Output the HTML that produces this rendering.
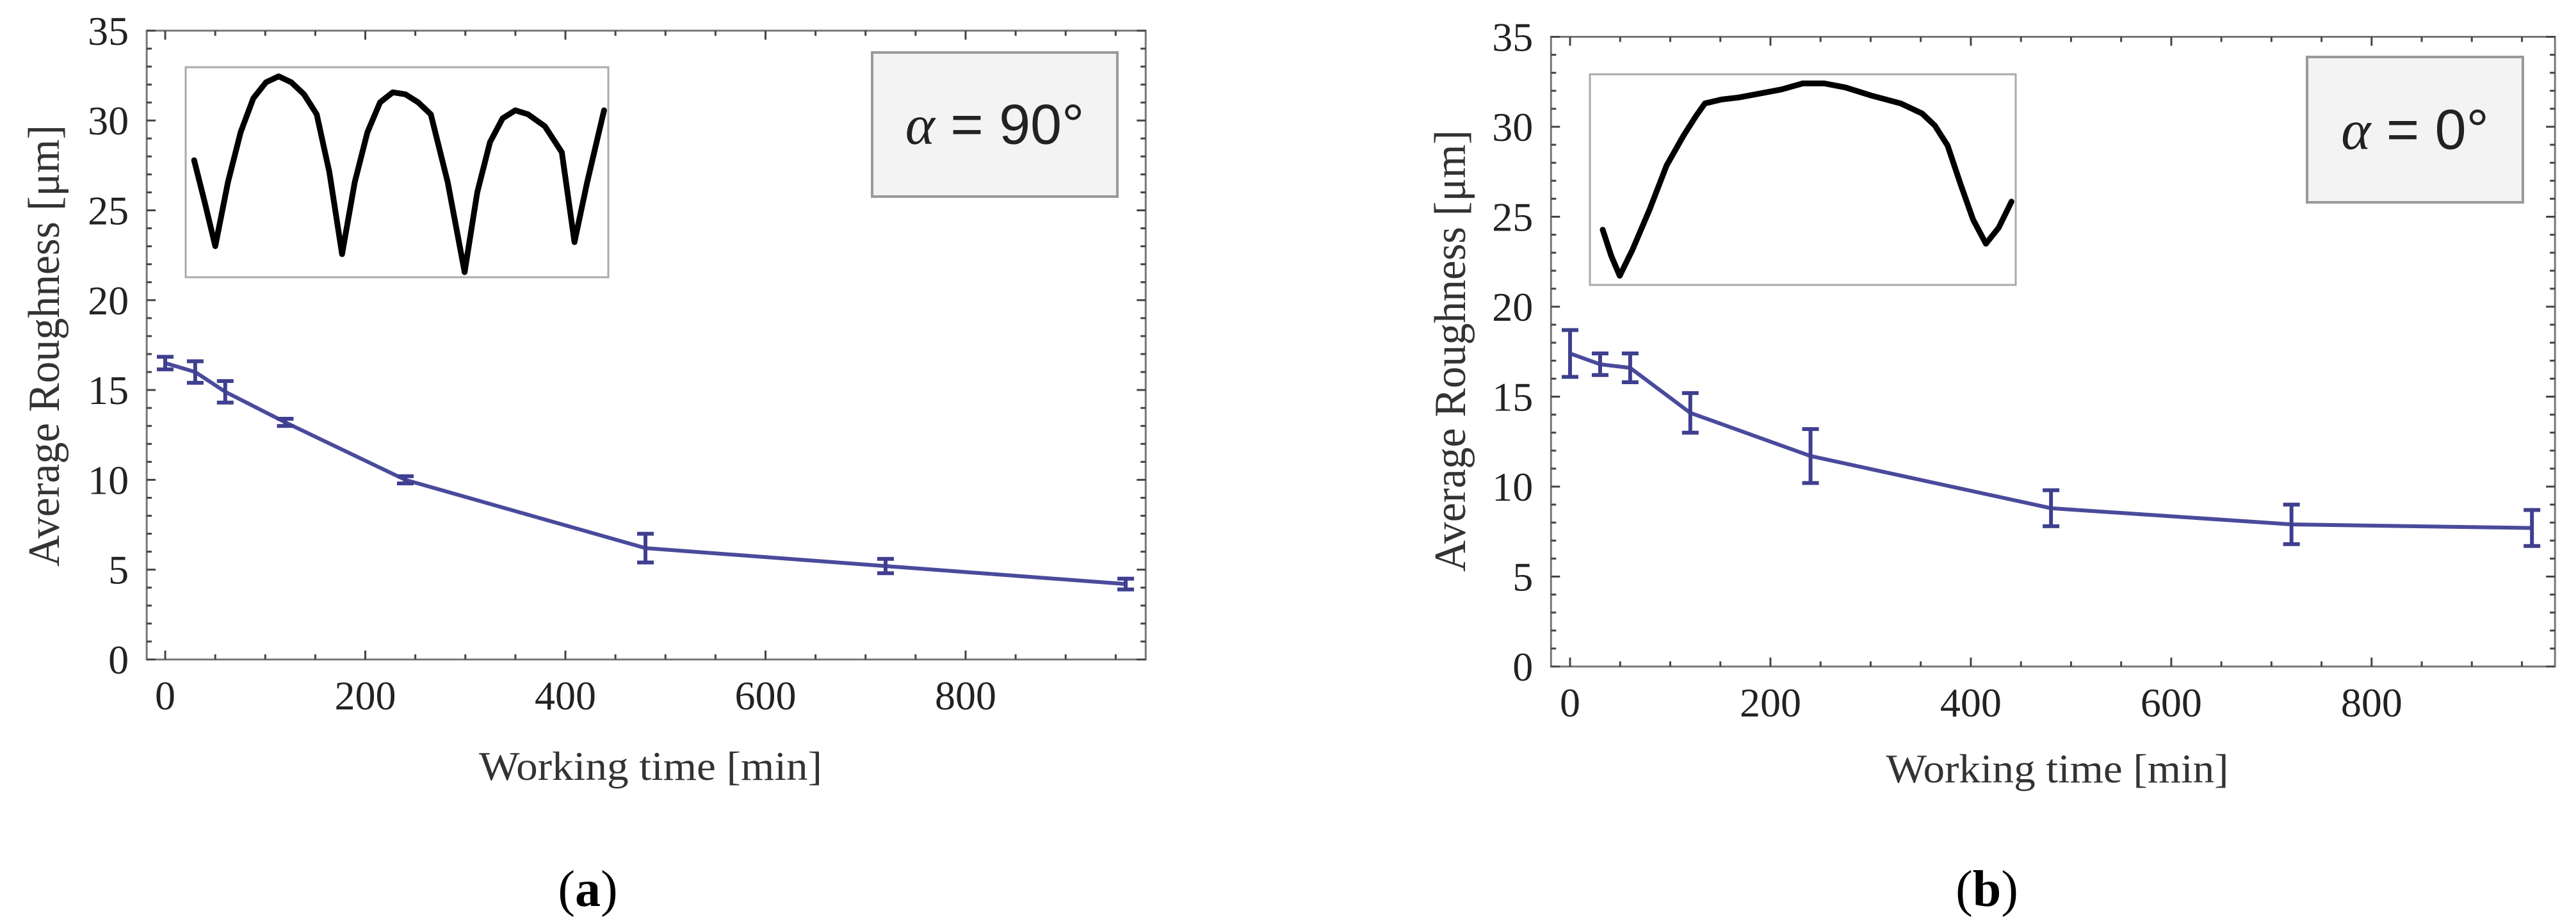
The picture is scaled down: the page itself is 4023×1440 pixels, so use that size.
<!DOCTYPE html>
<html><head><meta charset="utf-8"><style>
html,body{margin:0;padding:0;background:#fff;}
svg{display:block;}
</style></head><body>
<svg id="fig" width="4023" height="1440" viewBox="0 0 4023 1440" xmlns="http://www.w3.org/2000/svg"></svg>
<script>
// ---- data ----
const timesA = [0, 30, 60, 120, 240, 480, 720, 960];
const roughA = [16.5, 16.0, 14.9, 13.2, 10.0, 6.2, 5.2, 4.2];
const errA   = [0.35, 0.6, 0.6, 0.2, 0.2, 0.8, 0.4, 0.3];
const timesB = [0, 30, 60, 120, 240, 480, 720, 960];
const roughB = [17.4, 16.8, 16.6, 14.1, 11.7, 8.8, 7.9, 7.7];
const errB   = [1.3, 0.6, 0.8, 1.1, 1.5, 1.0, 1.1, 1.0];
const xTickLabels = [0, 200, 400, 600, 800];
const yTickLabels = [0, 5, 10, 15, 20, 25, 30, 35];
// inset profiles (normalized 0..1 across inset box, y 0=top)
const profileA = [[0.02,0.44],[0.045,0.65],[0.07,0.87],[0.10,0.55],[0.13,0.30],[0.16,0.13],[0.19,0.05],[0.22,0.02],[0.25,0.05],[0.28,0.11],[0.31,0.21],[0.34,0.50],[0.37,0.91],[0.40,0.55],[0.43,0.30],[0.46,0.15],[0.49,0.10],[0.52,0.11],[0.55,0.15],[0.58,0.21],[0.62,0.55],[0.66,1.0],[0.69,0.60],[0.72,0.35],[0.75,0.23],[0.78,0.19],[0.81,0.21],[0.85,0.27],[0.89,0.40],[0.92,0.85],[0.95,0.55],[0.99,0.19]];
const profileB = [[0.03,0.75],[0.05,0.88],[0.07,0.98],[0.10,0.85],[0.14,0.65],[0.18,0.43],[0.22,0.28],[0.25,0.18],[0.27,0.12],[0.31,0.10],[0.35,0.09],[0.40,0.07],[0.45,0.05],[0.50,0.02],[0.55,0.02],[0.60,0.04],[0.66,0.08],[0.73,0.12],[0.78,0.17],[0.81,0.23],[0.84,0.33],[0.87,0.52],[0.90,0.70],[0.93,0.82],[0.96,0.74],[0.99,0.61]];

const NS = "http://www.w3.org/2000/svg";
const svg = document.getElementById('fig');
function mk(tag, attrs, parent){
  const e = document.createElementNS(NS, tag);
  for (const k in attrs) e.setAttribute(k, attrs[k]);
  (parent||svg).appendChild(e);
  return e;
}

function drawChart(c, times, rough, err, profile){
  const g = mk('g', {});
  
  
  const X = v => c.x0 + (v - 0) * c.xs;
  const Y = v => c.y0 - v * c.ys;
  const L = X(c.xmin), R = X(c.xmax), T = Y(35), B = Y(0);
  const fr = mk('rect', {x:L, y:T, width:R-L, height:B-T, fill:'none', stroke:'#777', 'stroke-width':3}, g);
  
  
  for (let v = 0; v <= c.xmax; v += 50) {
    const major = v % 200 === 0;
    const len = major ? 14 : 8;
    mk('line', {x1:X(v), x2:X(v), y1:B, y2:B-len, stroke:'#444', 'stroke-width':3}, g);
    mk('line', {x1:X(v), x2:X(v), y1:T, y2:T+len, stroke:'#444', 'stroke-width':3}, g);
  }
  for (let v = 0; v <= 35; v += 1) {
    const major = v % 5 === 0;
    const len = major ? 14 : 8;
    mk('line', {x1:L, x2:L+len, y1:Y(v), y2:Y(v), stroke:'#444', 'stroke-width':3}, g);
    mk('line', {x1:R, x2:R-len, y1:Y(v), y2:Y(v), stroke:'#444', 'stroke-width':3}, g);
  }
  xTickLabels.forEach(v => {
    const t = mk('text', {x:X(v), y:B+78, 'text-anchor':'middle', 'font-family':'Liberation Serif, serif', 'font-size':64, fill:'#222'}, g);
    t.textContent = v;
    
    
  });
  yTickLabels.forEach(v => {
    const t = mk('text', {x:L-28, y:Y(v)+22, 'text-anchor':'end', 'font-family':'Liberation Serif, serif', 'font-size':64, fill:'#222'}, g);
    t.textContent = v;
    
    
  });
  const xt = mk('text', {x:c.xtx, y:c.xty, 'text-anchor':'middle', 'font-family':'Liberation Serif, serif', 'font-size':64, fill:'#333', textLength:c.xtl, lengthAdjust:'spacingAndGlyphs'}, g);
  xt.textContent = 'Working  time  [min]';
  
  
  const yt = mk('text', {x:0, y:0, 'text-anchor':'middle', 'font-family':'Liberation Serif, serif', 'font-size':70, fill:'#333', textLength:690, lengthAdjust:'spacingAndGlyphs', transform:`translate(${c.ytx},${c.yty}) rotate(-90)`}, g);
  yt.textContent = 'Average  Roughness [μm]';
  
  
  const ins = mk('rect', {x:c.ix, y:c.iy, width:c.iw, height:c.ih, fill:'#fff', stroke:'#aaa', 'stroke-width':3}, g);
  
  
  const pp = profile.map(p => (c.ix + p[0]*c.iw) + ',' + (c.iy + 8 + p[1]*(c.ih-16))).join(' ');
  const prof = mk('polyline', {points:pp, fill:'none', stroke:'#000', 'stroke-width':9, 'stroke-linejoin':'round', 'stroke-linecap':'round'}, g);
  
  
  const lb = mk('rect', {x:c.lx, y:c.ly, width:c.lw, height:c.lh, fill:'#f3f3f3', stroke:'#999', 'stroke-width':4}, g);
  
  
  const lt = mk('text', {x:c.lx+c.lw/2, y:c.ly+c.lh/2+30, 'text-anchor':'middle', 'font-family':'Liberation Sans, sans-serif', 'font-size':88, fill:'#222'}, g);
  lt.innerHTML = '<tspan font-family="Liberation Serif, serif" font-style="italic">α</tspan> = ' + c.angle + '°';
  
  
  const pts = times.map((t,i) => X(t) + ',' + Y(rough[i])).join(' ');
  const ln = mk('polyline', {points:pts, fill:'none', stroke:'#4a4a9c', 'stroke-width':6}, g);
  
  
  times.forEach((t,i) => {
    const eg = mk('g', {stroke:'#3f3f8f', 'stroke-width':6}, g);
    
    
    const x = X(t), y1 = Y(rough[i]-err[i]), y2 = Y(rough[i]+err[i]);
    mk('line', {x1:x, x2:x, y1:y1, y2:y2}, eg);
    mk('line', {x1:x-13, x2:x+13, y1:y1, y2:y1}, eg);
    mk('line', {x1:x-13, x2:x+13, y1:y2, y2:y2}, eg);
  });
  const cap = mk('text', {x:c.capx, y:1415, 'text-anchor':'middle', 'font-family':'Liberation Serif, serif', 'font-size':80, fill:'#000'}, g);
  cap.innerHTML = '(<tspan font-weight="bold">' + c.cap + '</tspan>)';
  
  
}

drawChart({name:'chart-a', x0:258, xs:1.5625, y0:1030, ys:28.06, xmin:-18.5, xmax:980,
  xtx:1016, xty:1218, xtl:536, ytx:92, yty:540,
  ix:290, iy:105, iw:660, ih:328, lx:1362, ly:82, lw:383, lh:225, angle:'90', cap:'a', capx:918},
  timesA, roughA, errA, profileA);
drawChart({name:'chart-b', x0:2452, xs:1.5648, y0:1041, ys:28.1, xmin:-19, xmax:983,
  xtx:3213, xty:1222, xtl:535, ytx:2288, yty:548,
  ix:2483, iy:116, iw:665, ih:329, lx:3603, ly:89, lw:337, lh:227, angle:'0', cap:'b', capx:3103},
  timesB, roughB, errB, profileB);
</script>
</body></html>
